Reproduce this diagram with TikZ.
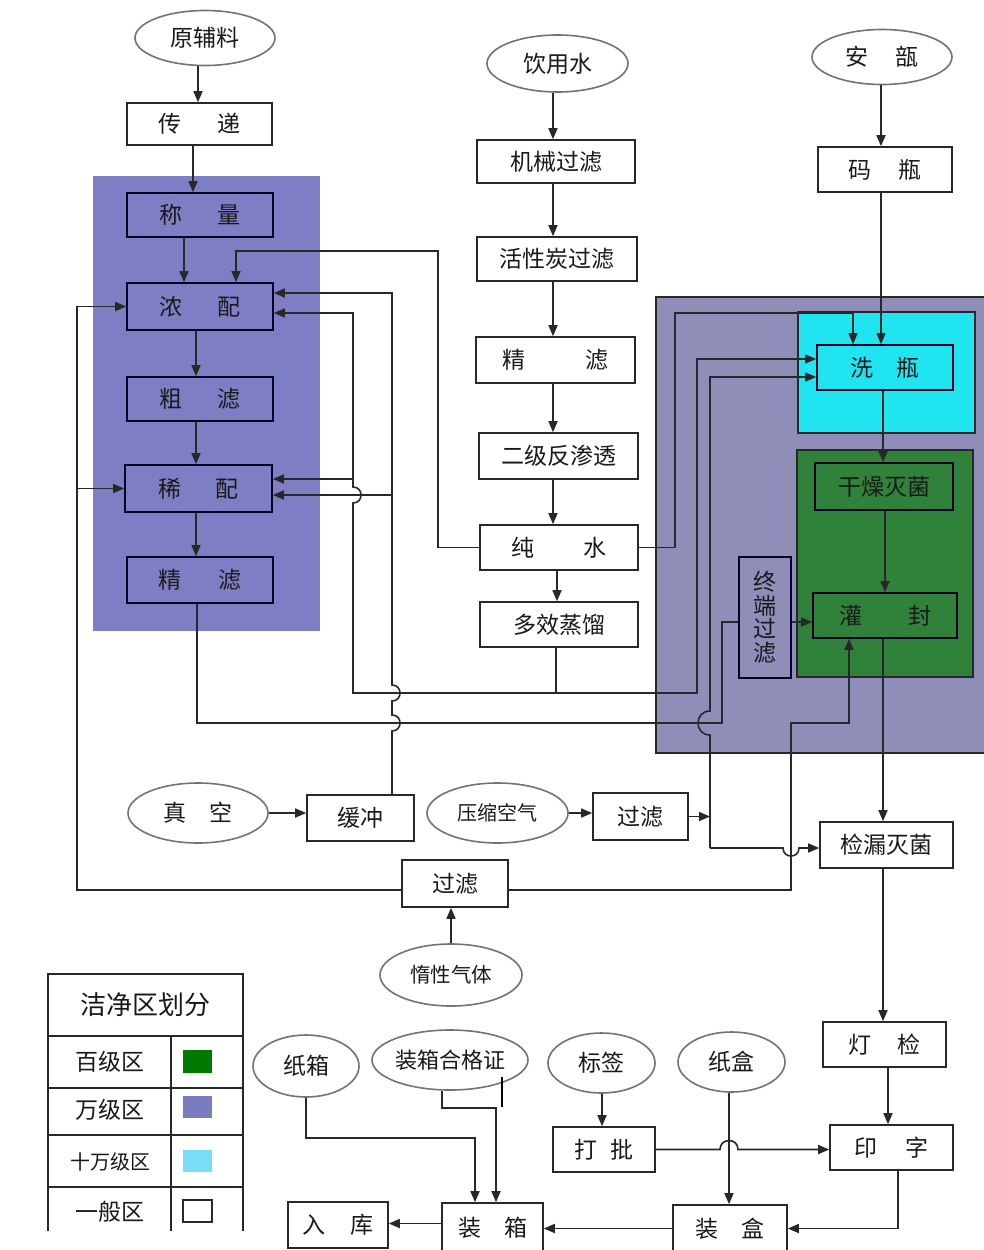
\documentclass[tikz,border=0pt]{standalone}
\usepackage{fontspec}
\setmainfont{Noto Sans CJK SC}
\usetikzlibrary{arrows.meta,shapes.geometric}
\definecolor{purpL}{RGB}{126,126,196}
\definecolor{purpR}{RGB}{142,142,184}
\definecolor{cyanR}{RGB}{32,228,240}
\definecolor{greenR}{RGB}{48,130,58}
\definecolor{lgGreen}{RGB}{0,122,0}
\definecolor{lgPurp}{RGB}{123,123,192}
\definecolor{lgCyan}{RGB}{120,222,246}
\definecolor{inkC}{RGB}{40,40,40}
\tikzset{
  ln/.style={line width=1.6pt, draw=inkC},
  arr/.style={ln, -{Triangle[length=11pt,width=9pt]}},
  box/.style={draw=inkC, line width=1.6pt, fill=white, inner sep=0pt,
    font=\fontsize{23}{26}\selectfont, text=black!90},
  pbox/.style={box, fill=none, draw=black!85!blue},
  oval/.style={ellipse, draw=black!55, line width=1.6pt, fill=white, inner sep=0pt,
    font=\fontsize{23}{26}\selectfont, text=black!90},
  lt/.style={inner sep=0pt, font=\fontsize{23}{26}\selectfont, text=black!90},
}
\begin{document}
\begin{tikzpicture}[x=1pt,y=-1pt]
\useasboundingbox (0,0) rectangle (983,1250);
\fill[white] (0,0) rectangle (983,1250);

% ---- clean-zone regions
\fill[purpL] (93,176) rectangle (320,631);
\draw[ln, fill=purpR] (656,297) rectangle (992,753);
\draw[ln, fill=cyanR] (798,312) rectangle (975,433);
\draw[ln, fill=greenR] (797,450) rectangle (973,677);

% ---- helper x coordinates
\foreach \x in {184,193,196,197,198,236,308,392,438,442,451,475,496,553,556,557,602,675,697,710,722,729,791,849,853,881,883,885,888,898}
  \coordinate (c\x) at (\x,0);

% ---- left column
\node[oval, minimum width=140pt, minimum height=55pt] (yfl) at (205,38) {原辅料};
\node[box, minimum width=145pt, minimum height=42pt] (tran) at (199.5,124) {传\hspace{1.6em}递};
\node[pbox, minimum width=146pt, minimum height=44pt] (chen) at (200,215) {称\hspace{1.5em}量};
\node[pbox, minimum width=146pt, minimum height=47pt] (nong) at (200,306.5) {浓\hspace{1.5em}配};
\node[pbox, minimum width=146pt, minimum height=44pt] (cu) at (200,399) {粗\hspace{1.5em}滤};
\node[pbox, minimum width=147pt, minimum height=47pt] (xi) at (198.5,488.5) {稀\hspace{1.5em}配};
\node[pbox, minimum width=146pt, minimum height=46pt] (jl) at (200,580) {精\hspace{1.6em}滤};

% ---- centre column
\node[oval, minimum width=141pt, minimum height=57pt] (ysw) at (557.5,63.5) {饮用水};
\node[box, minimum width=158pt, minimum height=43pt] (jx) at (556,161.5) {机械过滤};
\node[box, minimum width=160pt, minimum height=44pt] (hx) at (557,259) {活性炭过滤};
\node[box, minimum width=159pt, minimum height=46pt] (jc) at (555.5,360) {精\hspace{2.6em}滤};
\node[box, minimum width=159pt, minimum height=46pt] (ej) at (558.5,456) {二级反渗透};
\node[box, minimum width=158pt, minimum height=45pt] (cs) at (559,547.5) {纯\hspace{2.1em}水};
\node[box, minimum width=158pt, minimum height=45pt] (dx) at (559,624.5) {多效蒸馏};

% ---- right column
\node[oval, minimum width=140pt, minimum height=55pt] (az) at (882,57) {安\hspace{1.2em}瓿};
\node[box, minimum width=134pt, minimum height=45pt] (mp) at (885,169.5) {码\hspace{1.2em}瓶};
\node[pbox, minimum width=136pt, minimum height=45pt] (xp) at (885,367.5) {洗\hspace{1em}瓶};
\node[pbox, minimum width=138pt, minimum height=47pt] (gz) at (884,486.5) {干燥灭菌};
\node[pbox, minimum width=144pt, minimum height=45pt] (gf) at (885,615.5) {灌\hspace{2em}封};
\node[pbox, minimum width=52pt, minimum height=121pt, align=center, font=\fontsize{23}{23.5}\selectfont] (zd) at (765,617.5) {终\\端\\过\\滤};
\node[box, minimum width=133pt, minimum height=46pt] (jl2) at (886.5,845) {检漏灭菌};
\node[box, minimum width=123pt, minimum height=45pt] (dj) at (884.5,1044.5) {灯\hspace{1.1em}检};
\node[box, minimum width=123pt, minimum height=45pt] (yz) at (891.5,1147.5) {印\hspace{1.2em}字};

% ---- gases
\node[oval, minimum width=140pt, minimum height=60pt] (zk) at (198,813) {真\hspace{1em}空};
\node[box, minimum width=107pt, minimum height=46pt] (hc) at (360.5,818) {缓冲};
\node[oval, minimum width=141pt, minimum height=60pt, font=\fontsize{20}{24}\selectfont] (ys) at (497.5,813) {压缩空气};
\node[box, minimum width=95pt, minimum height=47pt] (gl1) at (640.5,816.5) {过滤};
\node[box, minimum width=106pt, minimum height=47pt] (gl2) at (455,883.5) {过滤};
\node[oval, minimum width=142pt, minimum height=62pt, font=\fontsize{20.5}{24}\selectfont] (dxq) at (451,975) {惰性气体};

% ---- packaging
\node[oval, minimum width=107pt, minimum height=60pt] (zhe) at (731.5,1062) {纸盒};
\node[oval, minimum width=107pt, minimum height=60pt] (bq) at (601.5,1063) {标签};
\node[box, minimum width=102pt, minimum height=45pt] (dp) at (604,1149.5) {打\hspace{0.6em}批};
\node[box, minimum width=114pt, minimum height=47pt] (zh) at (730,1228.5) {装\hspace{1em}盒};
\node[oval, minimum width=106pt, minimum height=62pt] (zx) at (306,1066) {纸箱};
\node[oval, minimum width=156pt, minimum height=60pt, font=\fontsize{22}{26}\selectfont] (hgz) at (450,1060) {装箱合格证};
\node[box, minimum width=101pt, minimum height=49pt] (zxb) at (492.5,1227.5) {装\hspace{1em}箱};
\node[box, minimum width=100pt, minimum height=46pt] (rk) at (338,1225) {入\hspace{1.1em}库};

% ---- main flow arrows
\draw[arr] (c198 |- yfl.south) -- (c198 |- tran.north);
\draw[arr] (c193 |- tran.south) -- (c193 |- chen.north);
\draw[arr] (c184 |- chen.south) -- (c184 |- nong.north);
\draw[arr] (c196 |- nong.south) -- (c196 |- cu.north);
\draw[arr] (c196 |- cu.south) -- (c196 |- xi.north);
\draw[arr] (c196 |- xi.south) -- (c196 |- jl.north);

\draw[arr] (c553 |- ysw.south) -- (c553 |- jx.north);
\draw[arr] (c553 |- jx.south) -- (c553 |- hx.north);
\draw[arr] (c553 |- hx.south) -- (c553 |- jc.north);
\draw[arr] (c553 |- jc.south) -- (c553 |- ej.north);
\draw[arr] (c553 |- ej.south) -- (c553 |- cs.north);
\draw[arr] (c557 |- cs.south) -- (c557 |- dx.north);

\draw[arr] (c881 |- az.south) -- (c881 |- mp.north);
\draw[arr] (c881 |- mp.south) -- (c881 |- xp.north);
\draw[arr] (c883 |- xp.south) -- (c883 |- gz.north);
\draw[arr] (c885 |- gz.south) -- (c885 |- gf.north);
\coordinate (zdo) at ([yshift=-4.5pt]zd.east);
\draw[arr] (zdo) -- (zdo -| gf.west);
\draw[arr] (c883 |- gf.south) -- (c883 |- jl2.north);
\draw[arr] (c883 |- jl2.south) -- (c883 |- dj.north);
\draw[arr] (c888 |- dj.south) -- (c888 |- yz.north);
\draw[arr] (c898 |- yz.south) |- (zh.east);
\draw[arr] (zh.west) -- (zh.west -| zxb.east);
\coordinate (zxo) at ([yshift=4pt]zxb.west);
\draw[arr] (zxo) -- (zxo -| rk.east);

% ---- purified water
\draw[arr] (cs.west) -| (438,251) -| (c236 |- nong.north);
\draw[arr] (cs.east) -| (675,313) -| (c853 |- xp.north);

% ---- distilled water
\coordinate (wfi) at (556,693);
\draw[ln] (c556 |- dx.south) -- (wfi);
\draw[arr] (wfi) -- (697,693) |- ([yshift=8.5pt]xp.west);
\draw[arr] (wfi) -- (353,693) -- (353,503) .. controls (363.7,503) and (363.7,487) .. (353,487) -- (353,313) -- ([yshift=-6.5pt]nong.east);
\draw[arr] (353,479) -- ([yshift=9.5pt]xi.east);

% ---- vacuum buffer
\draw[arr] (hc.north -| c392) -- (392,731) .. controls (402.7,731) and (402.7,715) .. (392,715) -- (392,701) .. controls (402.7,701) and (402.7,685) .. (392,685) -- (392,293) -- ([yshift=13.5pt]nong.east);
\draw[arr] (392,495) -- ([yshift=-6.5pt]xi.east);
\draw[arr] (zk.east) -- (zk.east -| hc.west);

% ---- fine filtered solution to terminal filter
\draw[ln] (c197 |- jl.south) -- (197,723) -- (722,723) |- (zdo -| zd.west);

% ---- compressed air
\draw[arr] (ys.east) -- (ys.east -| gl1.west);
\draw[arr] (gl1.east) -- (gl1.east -| c710);
\draw[arr] (710,848) -- (710,735) .. controls (694,735) and (694,711) .. (710,711) -- (710,377) -- ([yshift=-9.5pt]xp.west);
\draw[arr] (710,848) -- (783,848) .. controls (783,858.7) and (799,858.7) .. (799,848) -- ([yshift=-3pt]jl2.west);

% ---- inert gas
\draw[arr] (dxq.north) -- (dxq.north |- gl2.south);
\draw[arr] ([yshift=-6.5pt]gl2.west) -| (77,306.5) -- (nong.west);
\draw[arr] (77,488.5) -- (xi.west);
\draw[arr] ([yshift=-6.5pt]gl2.east) -| (791,723) -| (c849 |- gf.south);

% ---- packaging links
\draw[arr] (c602 |- bq.south) -- (c602 |- dp.north);
\draw[arr] (c729 |- zhe.south) -- (c729 |- zh.north);
\draw[arr] (dp.east) -- (720,1149.5) .. controls (720,1137.5) and (738,1137.5) .. (738,1149.5) -- (dp.east -| yz.west);
\draw[arr] (zx.south) |- (475,1138) -- (c475 |- zxb.north);
\draw[arr] (c442 |- hgz.south) |- (496,1108) -- (c496 |- zxb.north);
\draw[line width=2.6pt, black] (502,1077) -- (502,1107);

% ---- legend
\draw[ln] (48,1231) -- (48,974) -- (243,974) -- (243,1231);
\draw[ln] (48,1036) -- (243,1036);
\draw[ln] (48,1088) -- (243,1088);
\draw[ln] (48,1135) -- (243,1135);
\draw[ln] (48,1187) -- (243,1187);
\draw[ln] (171,1036) -- (171,1231);
\node[lt, font=\fontsize{26}{30}\selectfont] (lg0) at (145,1005) {洁净区划分};
\node[lt] (lg1) at (110,1062) {百级区};
\node[lt] (lg2) at (110,1110) {万级区};
\node[lt, font=\fontsize{20}{24}\selectfont] (lg3) at (110,1162) {十万级区};
\node[lt] (lg4) at (110,1212) {一般区};
\fill[lgGreen] (183,1050) rectangle (212,1073);
\fill[lgPurp] (183,1096) rectangle (212,1118);
\fill[lgCyan] (183,1150) rectangle (212,1172);
\draw[line width=1.4pt, inkC, fill=white] (183,1200) rectangle (212,1222);
\end{tikzpicture}
\end{document}
